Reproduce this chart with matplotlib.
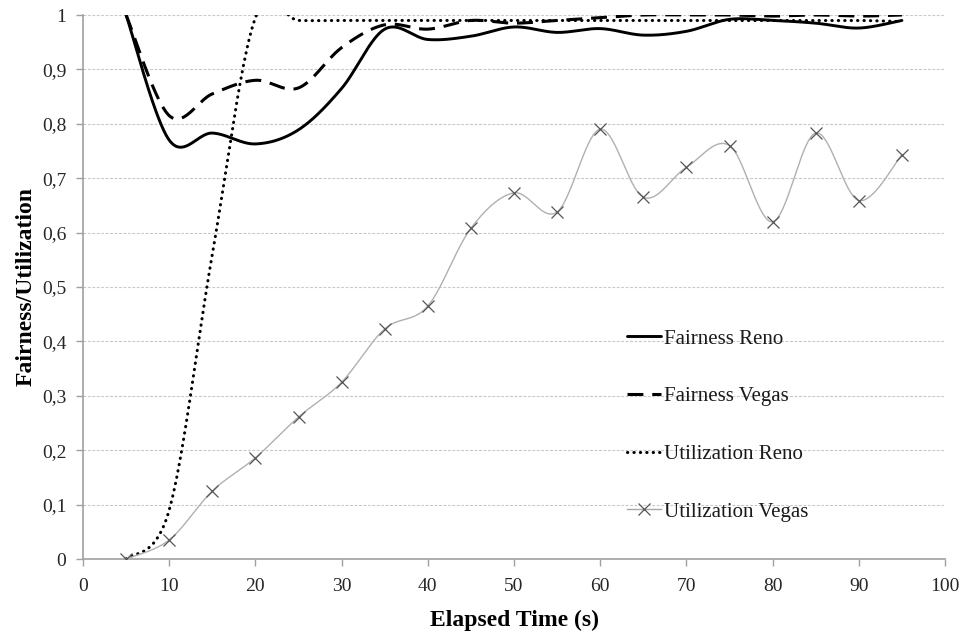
import numpy as np
import matplotlib
matplotlib.use("Agg")
import matplotlib.pyplot as plt
from matplotlib.ticker import FixedLocator, FuncFormatter

# Sample times (s)
time_s = [5, 10, 15, 20, 25, 30, 35, 40, 45, 50, 55, 60, 65, 70, 75, 80, 85, 90, 95]

fairness_reno = [1.0, 0.77, 0.783, 0.763, 0.789, 0.865, 0.974, 0.955, 0.961, 0.978,
                 0.968, 0.975, 0.963, 0.970, 0.992, 0.990, 0.985, 0.976, 0.990]
fairness_vegas = [1.0, 0.815, 0.855, 0.880, 0.866, 0.940, 0.982, 0.974, 0.990, 0.985,
                  0.990, 0.995, 1.0, 1.0, 1.0, 0.998, 1.0, 0.998, 1.0]
utilization_reno = [0.0, 0.09, 0.56, 0.995, 0.99, 0.99, 0.99, 0.99, 0.99, 0.99,
                    0.99, 0.99, 0.99, 0.99, 0.99, 0.99, 0.99, 0.99, 0.988]
utilization_vegas = [0.0, 0.035, 0.125, 0.186, 0.261, 0.325, 0.423, 0.465, 0.608, 0.673,
                     0.638, 0.790, 0.665, 0.720, 0.760, 0.620, 0.783, 0.659, 0.743]

series_labels = ["Fairness Reno", "Fairness Vegas", "Utilization Reno", "Utilization Vegas"]
x_ticks = list(range(0, 101, 10))
y_ticks = [round(v * 0.1, 1) for v in range(11)]


def smooth(xs, ys, n=40):
    """Spreadsheet-style smoothed line: cubic Bezier with neighbour-based control points."""
    p = np.column_stack([xs, ys]).astype(float)
    p = np.vstack([p[0], p, p[-1]])
    out = []
    for i in range(1, len(p) - 2):
        p0, p1, p2, p3 = p[i - 1], p[i], p[i + 1], p[i + 2]
        c1 = p1 + (p2 - p0) / 6.0
        c2 = p2 - (p3 - p1) / 6.0
        t = np.linspace(0, 1, n, endpoint=(i == len(p) - 3))[:, None]
        seg = ((1 - t) ** 3) * p1 + 3 * ((1 - t) ** 2) * t * c1 + 3 * (1 - t) * t ** 2 * c2 + t ** 3 * p2
        out.append(seg)
    seg = np.vstack(out)
    return seg[:, 0], seg[:, 1]


plt.rcParams["font.family"] = ["Liberation Serif", "DejaVu Serif"]

fig = plt.figure(figsize=(9.6, 6.37), dpi=100)
ax = fig.add_axes([83 / 960, 1 - 559 / 637, (945 - 83) / 960, (559 - 15) / 637])

sx, sy = smooth(time_s, fairness_reno)
ax.plot(sx, sy, color="black", lw=2.1, solid_capstyle="round", label=series_labels[0])
sx, sy = smooth(time_s, fairness_vegas)
ax.plot(sx, sy, color="black", lw=2.2, linestyle=(0, (5.2, 2.9)), label=series_labels[1])
sx, sy = smooth(time_s, utilization_reno)
ax.plot(sx, sy, color="black", lw=2.2, linestyle=(0, (0.1, 2.0)), dash_capstyle="round",
        label=series_labels[2])
sx, sy = smooth(time_s, utilization_vegas)
ax.plot(sx, sy, color="#b0b0b0", lw=1.0, zorder=2)
ax.plot(time_s, utilization_vegas, linestyle="none", marker="x", markersize=8,
        markeredgewidth=0.9, color="#555555", zorder=3)
# legend proxy for the marker series
ax.plot([], [], color="#a8a8a8", lw=1.0, marker="x", markersize=8, markeredgewidth=0.9,
        markeredgecolor="#555555", label=series_labels[3])

ax.set_xlim(0, 100)
ax.set_ylim(0, 1)
ax.xaxis.set_major_locator(FixedLocator(x_ticks))
ax.yaxis.set_major_locator(FixedLocator(y_ticks))
ax.yaxis.set_major_formatter(FuncFormatter(lambda v, _: ("%g" % round(v, 1)).replace(".", ",")))

ax.grid(axis="y", color="#c8c8c8", linestyle=(0, (2.5, 1.5)), lw=0.8)
ax.set_axisbelow(True)
for side in ("top", "right"):
    ax.spines[side].set_visible(False)
for side in ("left", "bottom"):
    ax.spines[side].set_color("#a0a0a0")
    ax.spines[side].set_linewidth(1.2)
ax.tick_params(axis="both", direction="out", length=5, width=1.0, color="#a0a0a0",
               labelsize=14, labelcolor="#262626")
ax.tick_params(axis="x", pad=9)
ax.tick_params(axis="y", pad=7)

ax.set_xlabel("Elapsed Time (s)", fontsize=17, fontweight="bold", labelpad=10)
ax.set_ylabel("Fairness/Utilization", fontsize=17, fontweight="bold", labelpad=4)

leg = ax.legend(loc="upper left", bbox_to_anchor=(0.621, 0.438), frameon=False, fontsize=15,
                handlelength=1.63, handletextpad=0.15, labelspacing=1.83, borderaxespad=0)
for txt in leg.get_texts():
    txt.set_color("#1a1a1a")

fig.savefig("out.png", dpi=100)
